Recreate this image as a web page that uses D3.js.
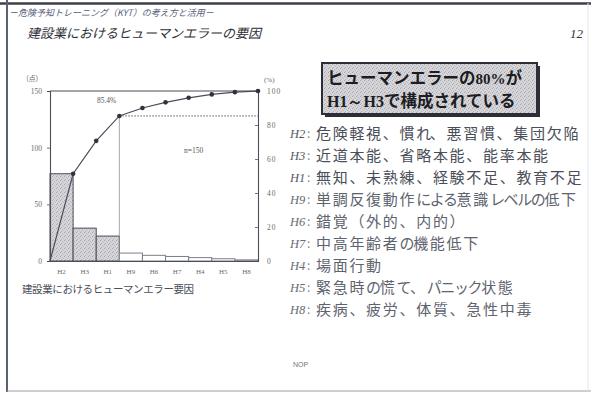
<!DOCTYPE html>
<html>
<head>
<meta charset="utf-8">
<script src="https://cdn.jsdelivr.net/npm/d3@7"></script>
<style>
  html, body { margin: 0; padding: 0; background: #fff; }
  svg { display: block; }
</style>
</head>
<body>
<div id="chart"></div>
<script>
// data
const categories = ["H2", "H3", "H1", "H9", "H6", "H7", "H4", "H5", "H8"];
const counts = [77, 29, 22, 7, 5, 4, 3, 2, 1];
const leftTicks = [0, 50, 100, 150];
const rightTicks = [0, 20, 40, 60, 80, 100];
const causeTexts = [
  "危険軽視、慣れ、悪習慣、集団欠陥",
  "近道本能、省略本能、能率本能",
  "無知、未熟練、経験不足、教育不足",
  "単調反復動作による意識レベルの低下",
  "錯覚（外的、内的）",
  "中高年齢者の機能低下",
  "場面行動",
  "緊急時の慌て、パニック状態",
  "疾病、疲労、体質、急性中毒"
];
const highlighted = 3; // H2, H3, H1 are shaded
const cumLabel = "85.4%";
const nLabel = "n=150";

const width = 591, height = 394;
const jp = "'Noto Sans CJK JP', sans-serif";
const serif = "'Liberation Serif', 'DejaVu Serif', serif";

const svg = d3.select("#chart").append("svg")
  .attr("width", width)
  .attr("height", height);

// stipple pattern for shaded bars
const defs = svg.append("defs");
const pat = defs.append("pattern")
  .attr("id", "stipple")
  .attr("width", 4).attr("height", 4)
  .attr("patternUnits", "userSpaceOnUse");
pat.append("rect").attr("width", 4).attr("height", 4).attr("fill", "#d6d6da");
pat.append("rect").attr("x", 0).attr("y", 0).attr("width", 1).attr("height", 1).attr("fill", "#a6a6ac");
pat.append("rect").attr("x", 2).attr("y", 1).attr("width", 1).attr("height", 1).attr("fill", "#b6b6bb");
pat.append("rect").attr("x", 1).attr("y", 3).attr("width", 1).attr("height", 1).attr("fill", "#b0b0b5");
pat.append("rect").attr("x", 3).attr("y", 2).attr("width", 1).attr("height", 1).attr("fill", "#bdbdc2");

const fade = defs.append("linearGradient").attr("id", "fade");
fade.append("stop").attr("offset", "0%").attr("stop-color", "#6a6f80").attr("stop-opacity", 0.9);
fade.append("stop").attr("offset", "60%").attr("stop-color", "#8a8f9c").attr("stop-opacity", 0.7);
fade.append("stop").attr("offset", "100%").attr("stop-color", "#bbb").attr("stop-opacity", 0);

// ---- slide frame ----
svg.append("line").attr("x1", 0).attr("x2", width).attr("y1", 3.5).attr("y2", 3.5)
  .attr("stroke", "#3c3f48").attr("stroke-width", 2.5);
svg.append("line").attr("x1", 7).attr("x2", 7).attr("y1", 0).attr("y2", 392)
  .attr("stroke", "#5a6272").attr("stroke-width", 2);
svg.append("line").attr("x1", 7).attr("x2", width).attr("y1", 391).attr("y2", 391)
  .attr("stroke", "#9aa0aa").attr("stroke-width", 1.2);
svg.append("line").attr("x1", 588).attr("x2", 588).attr("y1", 3).attr("y2", 391)
  .attr("stroke", "#e2e4e8").attr("stroke-width", 1);

// ---- header ----
svg.append("text").attr("x", 9).attr("y", 16)
  .attr("font-family", jp).attr("font-size", 9).attr("font-style", "italic")
  .attr("fill", "#56607a")
  .text("－危険予知トレーニング（KYT）の考え方と活用－");
svg.append("text").attr("x", 27).attr("y", 38)
  .attr("font-family", jp).attr("font-size", 13).attr("font-style", "italic")
  .attr("fill", "#2e3038")
  .text("建設業におけるヒューマンエラーの要因");
svg.append("text").attr("x", 583).attr("y", 38).attr("text-anchor", "end")
  .attr("font-family", serif).attr("font-size", 13).attr("font-style", "italic")
  .attr("fill", "#333")
  .text("12");
svg.append("line").attr("x1", 8).attr("x2", 430).attr("y1", 50).attr("y2", 50)
  .attr("stroke", "url(#fade)").attr("stroke-width", 1.6)
  .attr("stroke-dasharray", "3 1");

// ---- pareto chart ----
const plot = {left: 50, right: 258, top: 91, bottom: 261};
const x = d3.scaleBand().domain(categories).range([plot.left, plot.right]).padding(0);
const yL = d3.scaleLinear().domain([0, 150]).range([plot.bottom, plot.top]);
const yR = d3.scaleLinear().domain([0, 100]).range([plot.bottom, plot.top]);
const total = d3.sum(counts);
const cum = d3.cumsum(counts).map(v => v / total * 100);

const g = svg.append("g");

g.selectAll("rect.bar").data(categories)
  .join("rect")
  .attr("class", "bar")
  .attr("x", d => x(d))
  .attr("y", (d, i) => yL(counts[i]))
  .attr("width", x.bandwidth())
  .attr("height", (d, i) => yL(0) - yL(counts[i]))
  .attr("fill", (d, i) => i < highlighted ? "url(#stipple)" : "#fff")
  .attr("stroke", (d, i) => i < highlighted ? "#4a4e58" : "#7a7f8a")
  .attr("stroke-width", 1);

// frame: top line at 150
g.append("line").attr("x1", plot.left).attr("x2", plot.right)
  .attr("y1", yL(150)).attr("y2", yL(150))
  .attr("stroke", "#4a4e58").attr("stroke-width", 1.1);

// guide from the H1 point
const k = highlighted - 1;
const xk = x(categories[k]) + x.bandwidth();
g.append("line").attr("x1", xk).attr("x2", plot.right)
  .attr("y1", yR(cum[k])).attr("y2", yR(cum[k]))
  .attr("stroke", "#555a66").attr("stroke-width", 1).attr("stroke-dasharray", "1.5 1.5");
g.append("line").attr("x1", xk).attr("x2", xk)
  .attr("y1", yR(cum[k])).attr("y2", yL(0))
  .attr("stroke", "#8a8f9a").attr("stroke-width", 0.8);

// axes
const axL = g.append("g").attr("transform", `translate(${plot.left},0)`)
  .call(d3.axisLeft(yL).tickValues(leftTicks).tickSize(3).tickPadding(5));
const axR = g.append("g").attr("transform", `translate(${plot.right},0)`)
  .call(d3.axisRight(yR).tickValues(rightTicks).tickSize(-3).tickPadding(9));
const axB = g.append("g").attr("transform", `translate(0,${plot.bottom})`)
  .call(d3.axisBottom(x).tickSize(0).tickPadding(8));

[axL, axR, axB].forEach(a => {
  a.select(".domain").attr("stroke", "#4a4e58").attr("stroke-width", 1.1);
  a.selectAll(".tick line").attr("stroke", "#777");
  a.selectAll("text").attr("font-family", serif).attr("font-size", 7.5).attr("fill", "#6a6a6a");
});
axL.selectAll(".tick").filter(d => d === 0 || d === 150).select("line").remove();
axR.selectAll(".tick").filter(d => d === 0 || d === 100).select("line").remove();
axR.selectAll("text").attr("letter-spacing", 1);
axB.selectAll("text").attr("font-size", 7);

g.append("text").attr("x", 38).attr("y", 81).attr("text-anchor", "end")
  .attr("font-family", jp).attr("font-size", 7).attr("fill", "#666").text("(点)");
g.append("text").attr("x", 264).attr("y", 82)
  .attr("font-family", serif).attr("font-size", 7).attr("fill", "#666").text("(%)");

// cumulative line
const linePts = [[plot.left, yR(0)]].concat(categories.map((c, i) => [x(c) + x.bandwidth(), yR(cum[i])]));
g.append("path").datum(linePts)
  .attr("d", d3.line())
  .attr("fill", "none").attr("stroke", "#4a4e58").attr("stroke-width", 1.2);
g.selectAll("circle.pt").data(categories)
  .join("circle")
  .attr("class", "pt")
  .attr("cx", d => x(d) + x.bandwidth())
  .attr("cy", (d, i) => yR(cum[i]))
  .attr("r", 2.3)
  .attr("fill", "#2f333c");

g.append("text").attr("x", xk - 3).attr("y", yR(cum[k]) - 13).attr("text-anchor", "end")
  .attr("font-family", serif).attr("font-size", 7.5).attr("fill", "#555").text(cumLabel);
g.append("text").attr("x", 184).attr("y", 153)
  .attr("font-family", serif).attr("font-size", 7.5).attr("fill", "#555").text(nLabel);

svg.append("text").attr("x", 22).attr("y", 293)
  .attr("font-family", jp).attr("font-size", 10.5).attr("fill", "#4a4f5a")
  .attr("letter-spacing", -0.4)
  .text("建設業におけるヒューマンエラー要因");

// ---- callout box ----
const box = {x: 322, y: 63, w: 215, h: 51};
svg.append("rect").attr("x", box.x + 3).attr("y", box.y + 3).attr("width", box.w).attr("height", box.h)
  .attr("fill", "#2c2f36");
svg.append("rect").attr("x", box.x).attr("y", box.y).attr("width", box.w).attr("height", box.h)
  .attr("fill", "url(#stipple)").attr("stroke", "#2c2f36").attr("stroke-width", 2);
const line1 = svg.append("text").attr("x", 327).attr("y", 84)
  .attr("font-family", jp).attr("font-size", 16.5).attr("font-weight", "bold").attr("fill", "#1c1d22");
line1.append("tspan").text("ヒューマンエラーの");
line1.append("tspan").attr("font-family", serif).attr("font-size", 15).text("80%");
line1.append("tspan").text("が");
const line2 = svg.append("text").attr("x", 327).attr("y", 107)
  .attr("font-family", jp).attr("font-size", 16.5).attr("font-weight", "bold").attr("fill", "#1c1d22");
line2.append("tspan").attr("font-family", serif).attr("font-size", 16).text("H1～H3");
line2.append("tspan").text("で構成されている");

// ---- cause list ----
const yList = d3.scaleBand().domain(categories).range([123, 321]);
const rows = svg.append("g").selectAll("g.row").data(categories)
  .join("g")
  .attr("class", "row")
  .attr("transform", d => `translate(0,${yList(d) + yList.bandwidth() / 2})`);
rows.append("text").attr("x", 290).attr("dy", "0.35em")
  .attr("font-family", serif).attr("font-style", "italic").attr("font-size", 12.5)
  .attr("fill", (d, i) => i < highlighted ? "#555b68" : "#666c78")
  .text(d => d);
rows.append("text").attr("x", 307).attr("dy", "0.35em")
  .attr("font-family", jp).attr("font-size", 12).attr("fill", "#888")
  .text(":");
// kana runs are set tighter, like the proportional kana of the slide font
const isKana = /^[\u3041-\u30ff]/;
const causeLines = rows.append("text").attr("x", 316).attr("dy", "0.35em")
  .attr("font-family", jp).attr("font-size", 15)
  .attr("fill", (d, i) => i < highlighted ? "#4a4e58" : "#5e636e");
causeLines.each(function(d, i) {
  const parts = causeTexts[i].match(/[\u3041-\u30ff]+|[^\u3041-\u30ff]+/g);
  d3.select(this).selectAll("tspan").data(parts)
    .join("tspan")
    .attr("letter-spacing", p => isKana.test(p) ? -1.4 : 1.7)
    .text(p => p);
});

svg.append("text").attr("x", 293).attr("y", 367)
  .attr("font-family", "'Liberation Sans', sans-serif").attr("font-size", 7).attr("fill", "#777")
  .text("NOP");
</script>
</body>
</html>
